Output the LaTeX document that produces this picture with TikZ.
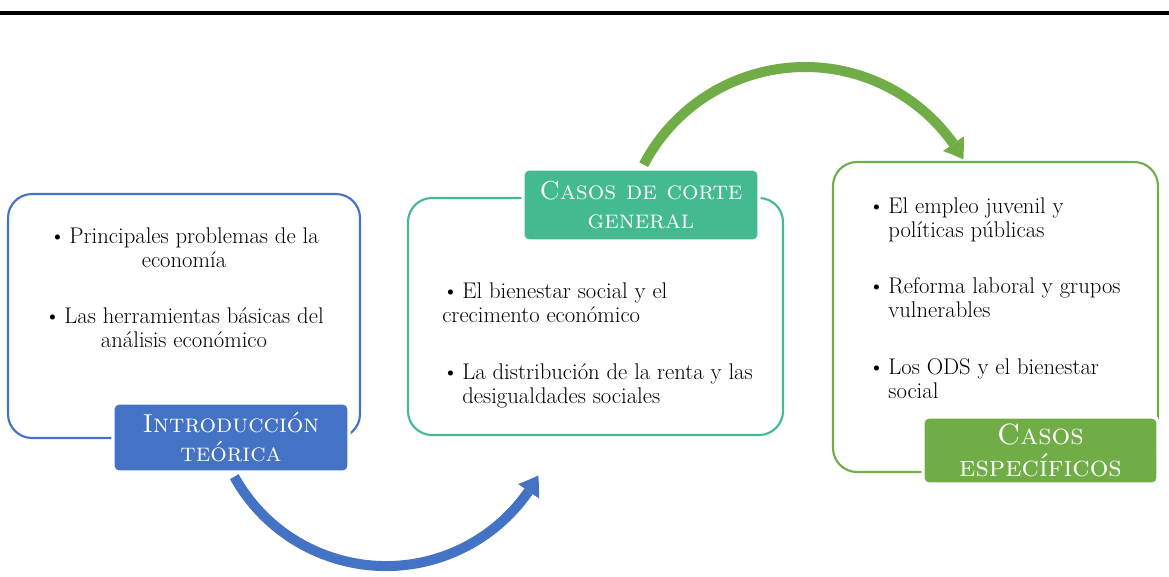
\documentclass[tikz,border=0pt]{standalone}
\usetikzlibrary{arrows.meta,bending}
\definecolor{azul}{HTML}{4472C4}
\definecolor{turquesa}{HTML}{44BB8F}
\definecolor{verde}{HTML}{70AD47}
\newcommand{\sangria}{\hspace*{0pt}\phantom{\textbullet\,}}
\begin{document}
\begin{tikzpicture}[x=0.75pt,y=-0.75pt,
    caja/.style={draw=#1,line width=1.6pt,rounded corners=18pt,inner sep=0pt},
    etiqueta/.style={fill=#1,draw=white,line width=2.5pt,rounded corners=4pt,
      text=white,align=center,inner sep=0pt,font=\fontsize{19.5}{21.75}\selectfont},
    texto/.style={inner sep=0pt,font=\fontsize{17}{18}\selectfont},
    flecha/.style={draw=#1,line width=7.5pt,
      -{Triangle[length=14pt,width=19pt,line width=0pt,bend]}}]
  \useasboundingbox (0,0) rectangle (1169,576);
  \draw[line width=3pt] (0,13) -- (1169,13);
  % flechas
  \coordinate (ini1) at (234.3,476.7);
  \coordinate (ini2) at (643.7,164.7);
  \draw[flecha=azul] (ini1) arc[start angle=151,end angle=28.5,radius=173.4];
  \draw[flecha=verde] (ini2) arc[start angle=207.6,end angle=330.5,radius=182];
  % cajas
  \node[caja=azul,minimum width=264pt,minimum height=183pt] (intro) at (184,316) {};
  \node[caja=turquesa,minimum width=281.25pt,minimum height=177.75pt] (general) at (595.5,316.5) {};
  \node[caja=verde,minimum width=243.75pt,minimum height=232.5pt] (especif) at (995.5,317) {};
  % etiquetas
  \node[etiqueta=azul,minimum width=177pt,minimum height=51.75pt] (lintro) at (231,437.5)
    {\textsc{Introducción}\\\textsc{teórica}};
  \node[etiqueta=turquesa,minimum width=177pt,minimum height=54pt] (lgeneral) at (641,205)
    {\textsc{Casos de corte}\\\textsc{general}};
  \node[etiqueta=verde,minimum width=176.25pt,minimum height=50.25pt,
    font=\fontsize{22}{24}\selectfont] (lespecif) at (1040.5,450.5)
    {\textsc{Casos}\\\textsc{específicos}};
  % textos (anclados en la ultima linea)
  \node[texto,align=center,anchor=base] (i1) at (184,267)
    {\textbullet\,Principales problemas de la\\economía};
  \node[texto,align=center,anchor=base] (i2) at (184,347)
    {\textbullet\,Las herramientas básicas del\\análisis económico};
  \node[texto,align=left,anchor=base west] (g1) at (442,322)
    {\textbullet\,El bienestar social y el\\crecimento económico};
  \node[texto,align=left,anchor=base west] (g2) at (442,403)
    {\textbullet\,La distribución de la renta y las\\\sangria desigualdades sociales};
  \node[texto,align=left,anchor=base west] (e1) at (868,237)
    {\textbullet\,El empleo juvenil y\\\sangria políticas públicas};
  \node[texto,align=left,anchor=base west] (e2) at (868,317)
    {\textbullet\,Reforma laboral y grupos\\\sangria vulnerables};
  \node[texto,align=left,anchor=base west] (e3) at (868,398)
    {\textbullet\,Los ODS y el bienestar\\\sangria social};
\end{tikzpicture}
\end{document}
